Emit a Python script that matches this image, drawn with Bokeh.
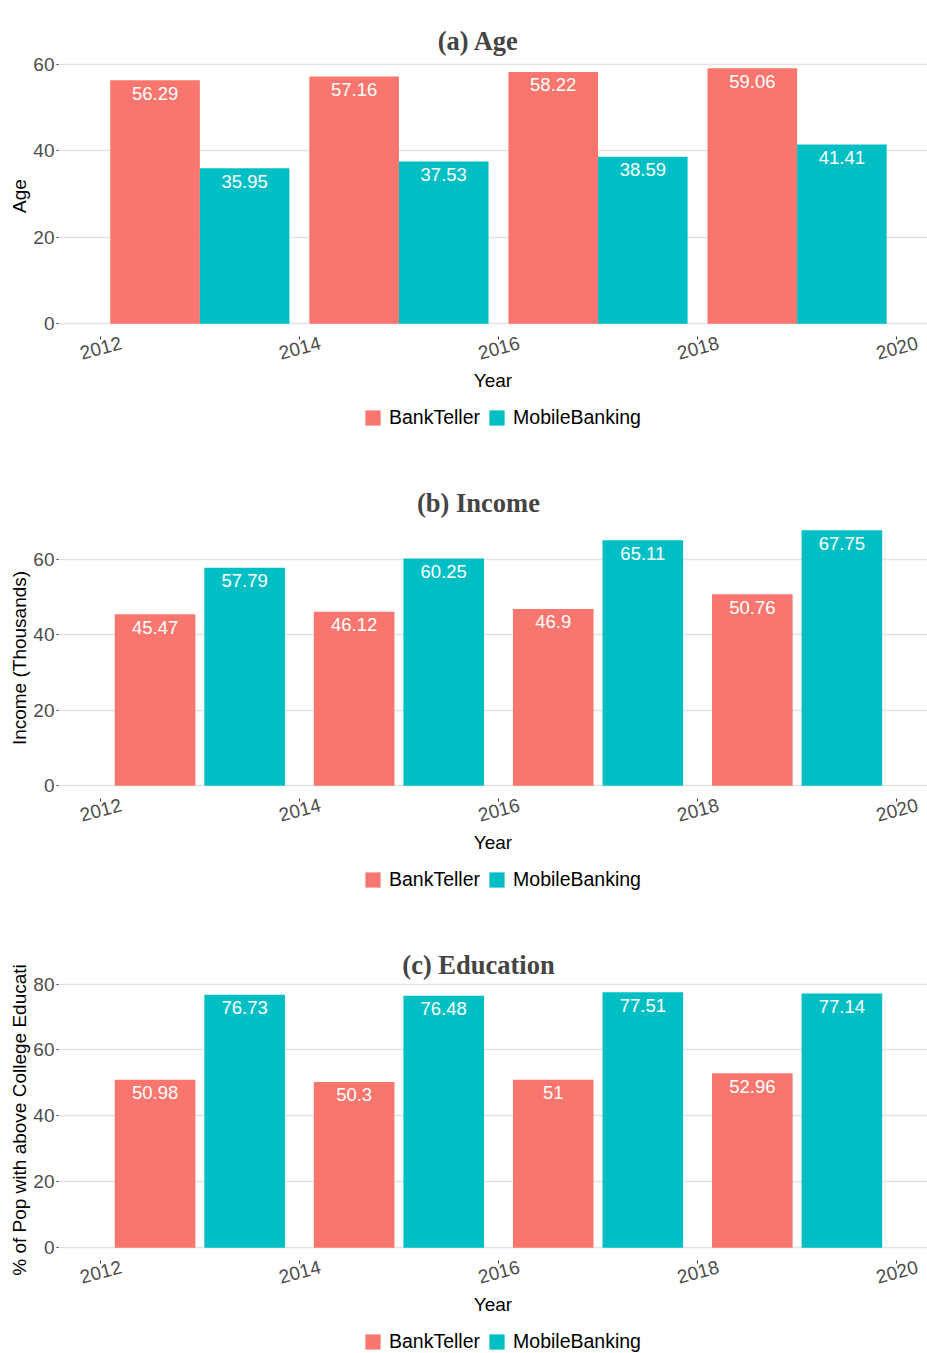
import math
from bokeh.plotting import figure
from bokeh.layouts import column
from bokeh.models import (ColumnDataSource, FixedTicker, Range1d, Legend, LegendItem,
                          LinearAxis)
from bokeh.core.properties import value
from bokeh.embed import file_html
from bokeh.resources import INLINE

# ---- data ----
years = [2013, 2015, 2017, 2019]
series_names = ["BankTeller", "MobileBanking"]
age_bank = [56.29, 57.16, 58.22, 59.06]
age_mobile = [35.95, 37.53, 38.59, 41.41]
income_bank = [45.47, 46.12, 46.9, 50.76]
income_mobile = [57.79, 60.25, 65.11, 67.75]
edu_bank = [50.98, 50.3, 51.0, 52.96]
edu_mobile = [76.73, 76.48, 77.51, 77.14]
x_ticks = [2012, 2014, 2016, 2018, 2020]
y_ticks_age = [0, 20, 40, 60]
y_ticks_income = [0, 20, 40, 60]
y_ticks_edu = [0, 20, 40, 60, 80]

COLORS = ["#F8766D", "#00BFC4"]
SANS = "Liberation Sans"
SERIF = "Liberation Serif"

# approximate Times-Bold advance widths (per 1000 em) for title centring
_TB = {"(": 333, ")": 333, "a": 500, "A": 722, "g": 500, "e": 444, "b": 556,
       "I": 389, "n": 556, "c": 444, "o": 500, "m": 833, "E": 667, "d": 556,
       "u": 556, "t": 333, "i": 278, " ": 250}
TITLE_PX = 26.5
FRAME_LEFT = 58
TITLE_CENTER = 478
LABEL_SHIFT = 0.21  # rotated tick labels are end-anchored in Bokeh; shift to centre
MAIN_BOTTOM = 62


def fmt(v):
    return f"{v:g}"


def make_panel(title, ylabel, bank, mobile, yticks, bar_w):
    ymax = max(bank + mobile)
    pad = ymax * 0.05
    p = figure(frame_width=869, frame_height=281,
               x_range=Range1d(2011.58, 2020.31),
               y_range=Range1d(-pad, ymax + pad),
               output_backend="svg", toolbar_location=None,
               min_border_left=FRAME_LEFT, min_border_right=0,
               min_border_top=55, min_border_bottom=MAIN_BOTTOM,
               background_fill_color="white", border_fill_color="white",
               outline_line_color=None)
    tw = sum(_TB.get(ch, 500) for ch in title) / 1000 * TITLE_PX
    p.title.text = title
    p.title.align = "left"
    p.title.offset = TITLE_CENTER - tw / 2 - FRAME_LEFT
    p.title.text_font = SERIF
    p.title.text_font_style = "bold"
    p.title.text_font_size = f"{TITLE_PX}px"
    p.title.standoff = 0
    # invisible axis above the plot area: spacing between title and panel
    spacer = LinearAxis(ticker=FixedTicker(ticks=[]), axis_line_color=None,
                        major_tick_line_color=None, minor_tick_line_color=None,
                        major_tick_in=0, major_tick_out=22, major_label_standoff=0)
    p.add_layout(spacer, "above")

    for vals, off, color in [(bank, -0.45, COLORS[0]), (mobile, 0.45, COLORS[1])]:
        src = ColumnDataSource(dict(x=[y + off for y in years], top=vals,
                                    lab=[fmt(v) for v in vals]))
        p.vbar(x="x", top="top", bottom=0, width=bar_w, source=src,
               fill_color=color, line_color=None)
        p.text(x="x", y="top", text="lab", source=src, text_color="white",
               text_font=value(SANS), text_font_size="18.5px",
               text_align="center", text_baseline="middle", y_offset=13)

    shifted = [t + LABEL_SHIFT for t in x_ticks]
    xax = p.below[0]
    yax = p.left[0]
    xax.ticker = FixedTicker(ticks=shifted, minor_ticks=x_ticks)
    xax.major_label_overrides = {s: str(t) for s, t in zip(shifted, x_ticks)}
    yax.ticker = FixedTicker(ticks=yticks, minor_ticks=[])
    p.xgrid.grid_line_color = None
    p.ygrid.grid_line_color = "#e3e3e3"
    p.ygrid.grid_line_width = 1.3
    for ax in (xax, yax):
        ax.axis_line_color = None
        ax.major_tick_in = 0
        ax.major_label_text_font = SANS
        ax.major_label_text_font_size = "19px"
        ax.major_label_text_color = "#4d4d4d"
        ax.axis_label_text_font = SANS
        ax.axis_label_text_font_size = "19px"
        ax.axis_label_text_font_style = "normal"
        ax.axis_label_text_color = "black"
    yax.major_tick_line_color = "#333333"
    yax.major_tick_out = 2
    yax.minor_tick_line_color = None
    yax.major_label_standoff = 2
    yax.axis_label = ylabel
    yax.axis_label_standoff = 0
    xax.major_tick_line_color = None
    xax.major_tick_out = 3
    xax.minor_tick_line_color = "#333333"
    xax.minor_tick_in = 0
    xax.minor_tick_out = 3
    xax.major_label_standoff = 3
    xax.major_label_orientation = 0.26
    xax.axis_label = "Year"
    xax.axis_label_standoff = 1
    return p


def make_legend(height, legend_top, bank, mobile):
    # legend strip below each panel; the series are drawn off-view so only the key shows
    lp = figure(frame_width=927, frame_height=height,
                x_range=Range1d(0, 1), y_range=Range1d(0, 1),
                x_axis_type=None, y_axis_type=None,
                output_backend="svg", toolbar_location=None,
                min_border=0, outline_line_color=None,
                background_fill_color="white", border_fill_color="white")
    lp.xgrid.grid_line_color = None
    lp.ygrid.grid_line_color = None
    items = []
    for vals, color, name in zip([bank, mobile], COLORS, series_names):
        r = lp.vbar(x=years, top=vals, width=0.9, fill_color=color, line_color=None)
        items.append(LegendItem(label=name, renderers=[r]))
    leg = Legend(items=items, orientation="horizontal",
                 location=(363, height - legend_top - 22),
                 glyph_width=19, glyph_height=19, label_standoff=7, spacing=7,
                 label_text_font=SANS, label_text_font_size="19.5px",
                 label_text_color="black", border_line_color=None,
                 background_fill_alpha=0, padding=0, margin=0)
    lp.add_layout(leg, "center")
    return lp


pa = make_panel("(a) Age", "Age", age_bank, age_mobile, y_ticks_age, 0.9)
pb = make_panel("(b) Income", "Income (Thousands)", income_bank, income_mobile,
                y_ticks_income, 0.81)
pc = make_panel("(c) Education", "% of Pop with above College Educati", edu_bank,
                edu_mobile, y_ticks_edu, 0.81)
main_h = 55 + 281 + MAIN_BOTTOM
la = make_legend(462 - main_h, 407 - main_h, age_bank, age_mobile)
lb = make_legend(462 - main_h, 407 - main_h, income_bank, income_mobile)
lc = make_legend(429 - main_h, 407 - main_h, edu_bank, edu_mobile)

layout = column(pa, la, pb, lb, pc, lc, spacing=0)
open("out.html", "w").write(file_html(layout, INLINE))
